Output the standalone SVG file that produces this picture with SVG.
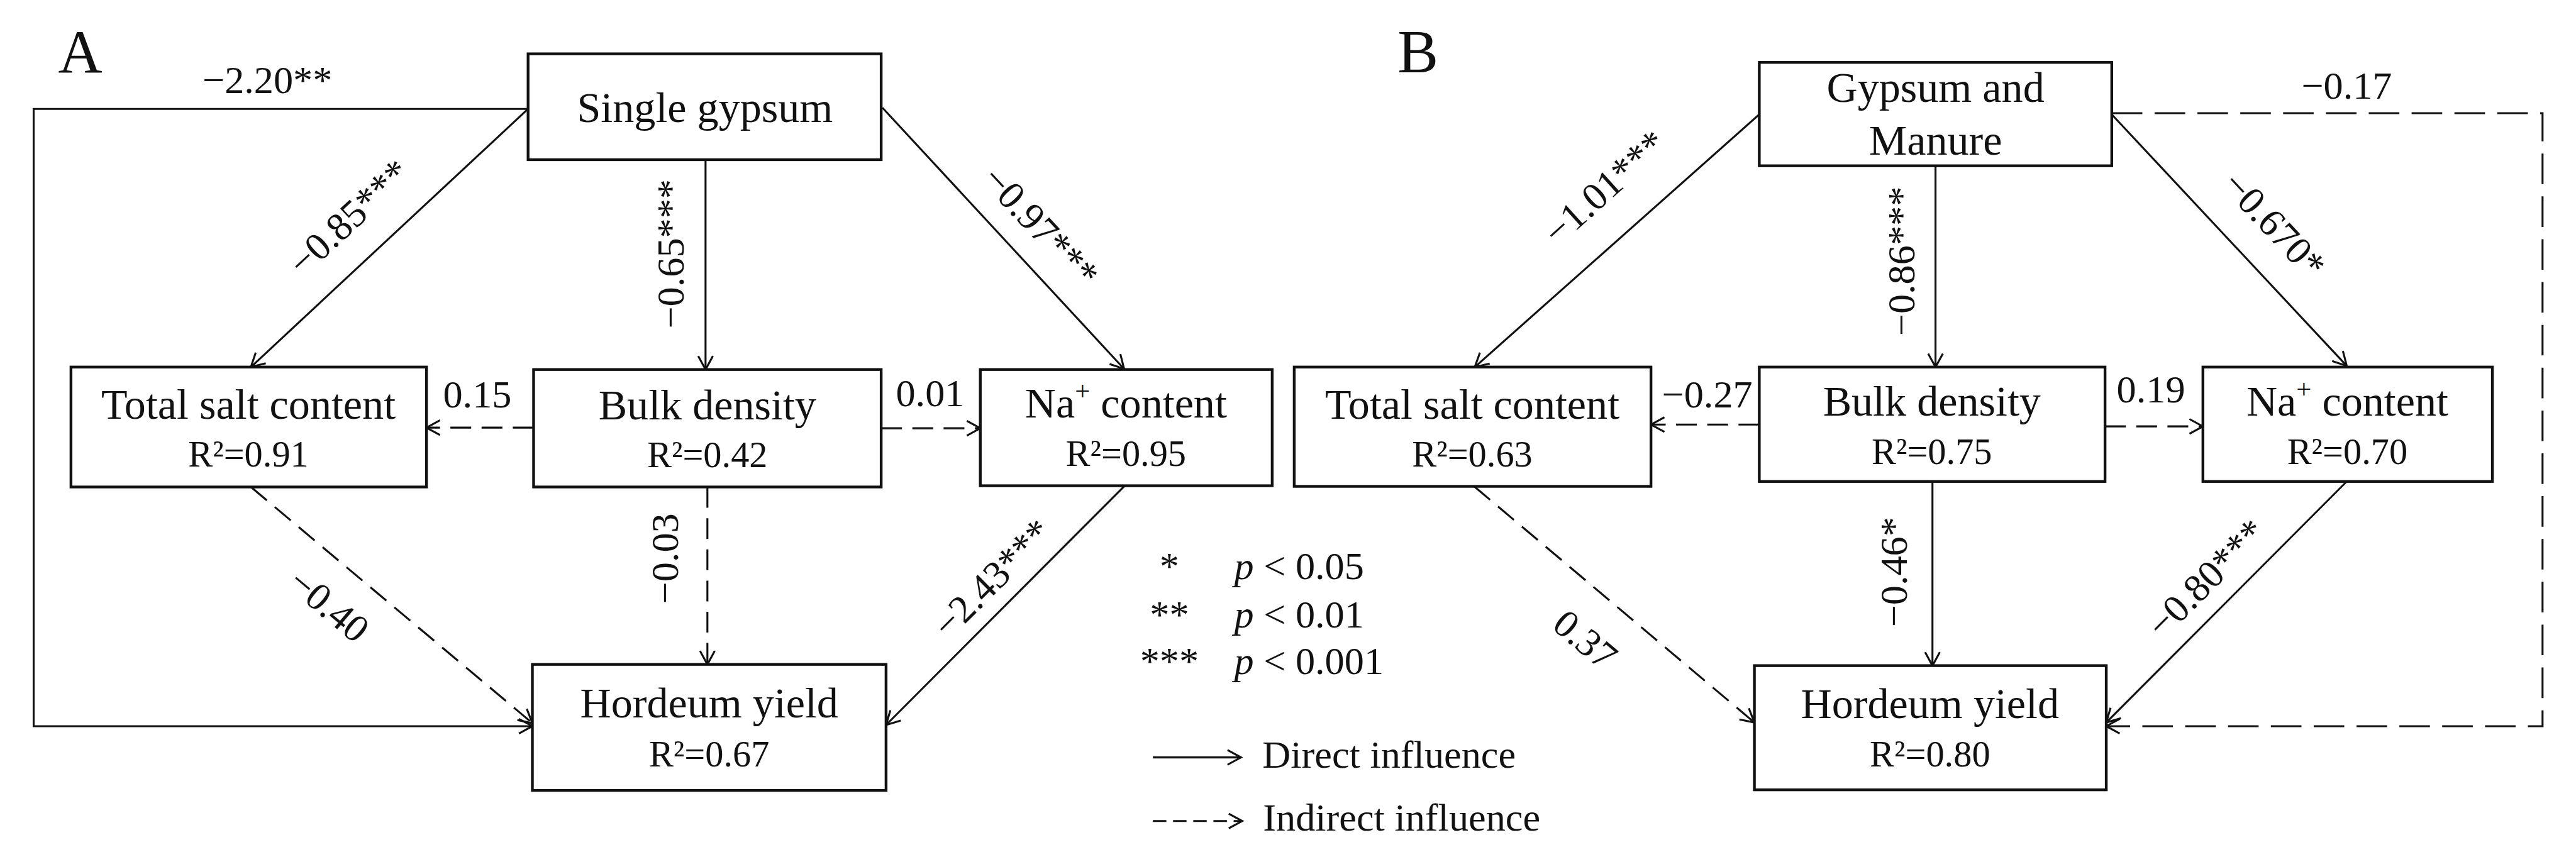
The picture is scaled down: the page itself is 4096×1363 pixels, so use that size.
<svg xmlns="http://www.w3.org/2000/svg" width="4096" height="1363" viewBox="0 0 4096 1363">
<defs>
<style>
text{font-family:"Liberation Serif","Times New Roman",serif;fill:#111;}
.t{font-size:70px;text-anchor:middle;}
.r{font-size:60px;text-anchor:middle;}
.lbl{font-size:64px;text-anchor:middle;}
.leg{font-size:64px;}
.big{font-size:100px;}
.box{fill:#fff;stroke:#111;stroke-width:4.5;}
.c{fill:none;stroke:#111;stroke-width:3.2;}
.d{stroke-dasharray:34 17;}
.d2{stroke-dasharray:50 20;}
.d3{stroke-dasharray:22 11;}
</style>
<marker id="ah" markerUnits="userSpaceOnUse" orient="auto" markerWidth="34" markerHeight="32" refX="0" refY="0" viewBox="-28 -16 34 32" overflow="visible">
<path d="M-22,-12 L0,0 L-22,12" fill="none" stroke="#111" stroke-width="3.2"/>
</marker>
</defs>
<rect x="0" y="0" width="4096" height="1363" fill="#fff"/>
<g transform="scale(0.973)">
<text class="big" x="95" y="118">A</text>
<text class="big" x="2284" y="118">B</text>

<g id="connectors">
<!-- Panel A -->
<path class="c" d="M863,178 L410,600" marker-end="url(#ah)"/>
<path class="c" d="M1153,261 L1153,604" marker-end="url(#ah)"/>
<path class="c" d="M1442,176 L1837,603" marker-end="url(#ah)"/>
<path class="c" d="M863,178 H55 V1187 H870" marker-end="url(#ah)"/>
<path class="c d" d="M872,699 H697" marker-end="url(#ah)"/>
<path class="c d" d="M1440,700 H1602" marker-end="url(#ah)"/>
<path class="c d" d="M1156,796 V1086" marker-end="url(#ah)"/>
<path class="c d" d="M410,796 L870,1182" marker-end="url(#ah)"/>
<path class="c" d="M1838,794 L1448,1185" marker-end="url(#ah)"/>
<!-- Panel B -->
<path class="c" d="M2875,187 L2410,600" marker-end="url(#ah)"/>
<path class="c" d="M3163,271 V600" marker-end="url(#ah)"/>
<path class="c" d="M3451,187 L3835,598" marker-end="url(#ah)"/>
<path class="c d2" d="M3451,185 H4155 V1187 H3442" marker-end="url(#ah)"/>
<path class="c d" d="M2875,694 H2698" marker-end="url(#ah)"/>
<path class="c d" d="M3440,697 H3600" marker-end="url(#ah)"/>
<path class="c" d="M3158,787 V1088" marker-end="url(#ah)"/>
<path class="c d" d="M2409,795 L2867,1181" marker-end="url(#ah)"/>
<path class="c" d="M3835,787 L3442,1181" marker-end="url(#ah)"/>
</g>

<g id="edge-labels">
<text class="lbl" x="437" y="152">−2.20**</text>
<text class="lbl" transform="translate(570,355) rotate(-43)" y="22">−0.85***</text>
<text class="lbl" transform="translate(1095,415) rotate(-90)" y="22">−0.65***</text>
<text class="lbl" transform="translate(1701,370) rotate(47)" y="22">−0.97***</text>
<text class="lbl" x="780" y="666">0.15</text>
<text class="lbl" x="1520" y="664">0.01</text>
<text class="lbl" transform="translate(1086,913) rotate(-90)" y="22">−0.03</text>
<text class="lbl" transform="translate(538,989) rotate(40)" y="22">−0.40</text>
<text class="lbl" transform="translate(1621,945) rotate(-45)" y="22">−2.43***</text>

<text class="lbl" transform="translate(2622,306) rotate(-42)" y="22">−1.01***</text>
<text class="lbl" transform="translate(3106,427) rotate(-90)" y="22">−0.86***</text>
<text class="lbl" transform="translate(3717,367) rotate(47)" y="22">−0.670*</text>
<text class="lbl" x="3835" y="161">−0.17</text>
<text class="lbl" x="2790" y="666">−0.27</text>
<text class="lbl" x="3515" y="658">0.19</text>
<text class="lbl" transform="translate(3094,935) rotate(-90)" y="22">−0.46*</text>
<text class="lbl" transform="translate(2591,1045) rotate(40)" y="22">0.37</text>
<text class="lbl" transform="translate(3605,945) rotate(-45)" y="22">−0.80***</text>
</g>

<!-- Panel A nodes -->
<g id="A-single-gypsum">
<rect class="box" x="863" y="88" width="577" height="173"/>
<text class="t" x="1152" y="199">Single gypsum</text>
</g>
<g id="A-total-salt">
<rect class="box" x="116" y="600" width="581" height="196"/>
<text class="t" x="406" y="684">Total salt content</text>
<text class="r" x="406" y="763">R²=0.91</text>
</g>
<g id="A-bulk-density">
<rect class="box" x="872" y="604" width="568" height="192"/>
<text class="t" x="1156" y="685">Bulk density</text>
<text class="r" x="1156" y="764">R²=0.42</text>
</g>
<g id="A-na-content">
<rect class="box" x="1602" y="604" width="477" height="190"/>
<text class="t" x="1840" y="682">Na<tspan font-size="44" dy="-28">+</tspan><tspan dy="28"> content</tspan></text>
<text class="r" x="1840" y="762">R²=0.95</text>
</g>
<g id="A-hordeum-yield">
<rect class="box" x="870" y="1086" width="578" height="206"/>
<text class="t" x="1159" y="1173">Hordeum yield</text>
<text class="r" x="1159" y="1253">R²=0.67</text>
</g>

<!-- Panel B nodes -->
<g id="B-gypsum-manure">
<rect class="box" x="2875" y="102" width="576" height="169"/>
<text class="t" x="3163" y="167">Gypsum and</text>
<text class="t" x="3163" y="253">Manure</text>
</g>
<g id="B-total-salt">
<rect class="box" x="2115" y="600" width="583" height="195"/>
<text class="t" x="2406" y="684">Total salt content</text>
<text class="r" x="2406" y="763">R²=0.63</text>
</g>
<g id="B-bulk-density">
<rect class="box" x="2875" y="600" width="565" height="187"/>
<text class="t" x="3157" y="679">Bulk density</text>
<text class="r" x="3157" y="758">R²=0.75</text>
</g>
<g id="B-na-content">
<rect class="box" x="3600" y="600" width="473" height="187"/>
<text class="t" x="3836" y="679">Na<tspan font-size="44" dy="-28">+</tspan><tspan dy="28"> content</tspan></text>
<text class="r" x="3836" y="758">R²=0.70</text>
</g>
<g id="B-hordeum-yield">
<rect class="box" x="2867" y="1088" width="575" height="203"/>
<text class="t" x="3154" y="1174">Hordeum yield</text>
<text class="r" x="3154" y="1253">R²=0.80</text>
</g>

<g id="legend">
<text class="lbl" x="1911" y="947">*</text>
<text class="lbl" x="1911" y="1026">**</text>
<text class="lbl" x="1911" y="1102">***</text>
<text class="leg" x="2017" y="947"><tspan font-style="italic">p</tspan> &lt; 0.05</text>
<text class="leg" x="2017" y="1026"><tspan font-style="italic">p</tspan> &lt; 0.01</text>
<text class="leg" x="2017" y="1102"><tspan font-style="italic">p</tspan> &lt; 0.001</text>
<path class="c" d="M1884,1238 H2028" marker-end="url(#ah)"/>
<path class="c d3" d="M1884,1342 H2030" marker-end="url(#ah)"/>
<text class="leg" x="2063" y="1255">Direct influence</text>
<text class="leg" x="2064" y="1358">Indirect influence</text>
</g>
</g>
</svg>
